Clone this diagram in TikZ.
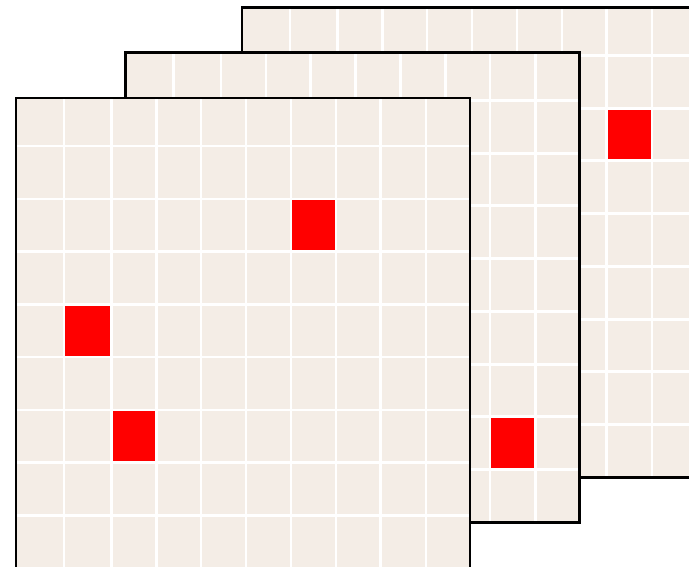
\documentclass[tikz,border=0pt]{standalone}
\usetikzlibrary{positioning}
\definecolor{paper}{RGB}{244,237,230}
\newcommand{\drawsheet}[2]{%
    \begin{scope}[shift={#1}]
        \fill[paper] (0,0) rectangle (454,470);
        \foreach \a/\b/\c/\d in {#2} \fill[hit] (\a,\b) rectangle (\c,\d);
        \foreach \gx in {48,95.5,140.5,185,230,275,320,364.5,410} \draw[gridline] (\gx,0) -- (\gx,470);
        \foreach \gy in {48,101,153.5,206.5,259,312,364.5,417.5} \draw[gridline] (0,\gy) -- (454,\gy);
        \draw[sheet] (0,0) rectangle (454,470);
    \end{scope}}
\begin{document}
\begin{tikzpicture}[x=1pt,y=-1pt]
            \tikzstyle{sheet} = [draw=black, line width=2.6pt]
            \tikzstyle{gridline} = [draw=white, line width=2.9pt]
            \tikzstyle{hit} = [fill=red]

            \useasboundingbox (0,0) rectangle (689,567);
            \clip (0,0) rectangle (689,567);

            \drawsheet{(242,7.3)}{364.5/101/410/153.5}
            \drawsheet{(125.5,52.3)}{364.5/364.5/410/417.5}
            \drawsheet{(16,98)}{275/101/320/153.5, 48/206.5/95.5/259, 95.5/312/140.5/364.5}
        \end{tikzpicture}
\end{document}
